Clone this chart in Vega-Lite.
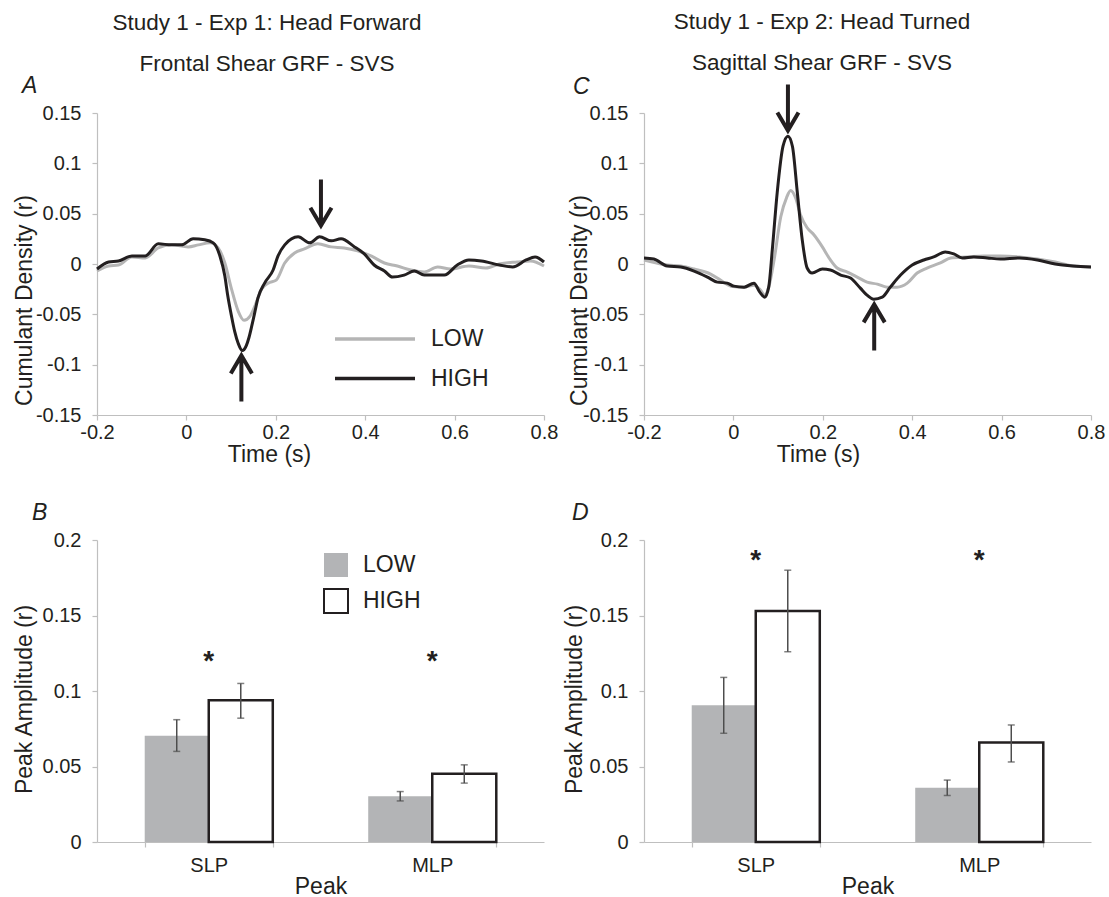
{
  "$schema": "https://vega.github.io/schema/vega-lite/v6.json",
  "padding": {"left": 13, "top": 11, "right": 5, "bottom": 5},
  "background": "white",
  "config": {
    "font": "Liberation Sans",
    "view": {"stroke": null},
    "axis": {"domainColor": "#bfbfbf", "tickColor": "#bfbfbf", "grid": false, "labelFontSize": 20, "labelColor": "#231f20", "titleFontSize": 23, "titleFontWeight": "normal", "titleColor": "#231f20", "tickSize": 5, "domainWidth": 1.2, "tickWidth": 1.2, "labelFont": "Liberation Sans", "titleFont": "Liberation Sans"},
    "title": {"font": "Liberation Sans", "fontSize": 22.5, "fontWeight": "normal", "color": "#231f20", "subtitleFontSize": 22.5, "subtitleColor": "#231f20", "subtitleFont": "Liberation Sans"},
    "legend": {"labelFontSize": 23, "labelColor": "#231f20", "labelFont": "Liberation Sans"}
  },
  "datasets": {
    "lineA": [
      {"s":"LOW","t":-0.2,"v":-0.007},{"s":"LOW","t":-0.174,"v":-0.002},{"s":"LOW","t":-0.152,"v":-0.001},{"s":"LOW","t":-0.122,"v":0.007},{"s":"LOW","t":-0.092,"v":0.006},{"s":"LOW","t":-0.063,"v":0.016},{"s":"LOW","t":-0.033,"v":0.019},{"s":"LOW","t":0.004,"v":0.017},{"s":"LOW","t":0.027,"v":0.019},{"s":"LOW","t":0.053,"v":0.021},{"s":"LOW","t":0.071,"v":0.016},{"s":"LOW","t":0.086,"v":0.001},{"s":"LOW","t":0.101,"v":-0.025},{"s":"LOW","t":0.116,"v":-0.047},{"s":"LOW","t":0.129,"v":-0.056},{"s":"LOW","t":0.142,"v":-0.052},{"s":"LOW","t":0.153,"v":-0.042},{"s":"LOW","t":0.168,"v":-0.025},{"s":"LOW","t":0.183,"v":-0.019},{"s":"LOW","t":0.201,"v":-0.016},{"s":"LOW","t":0.22,"v":0.001},{"s":"LOW","t":0.242,"v":0.011},{"s":"LOW","t":0.264,"v":0.015},{"s":"LOW","t":0.294,"v":0.02},{"s":"LOW","t":0.324,"v":0.017},{"s":"LOW","t":0.353,"v":0.016},{"s":"LOW","t":0.383,"v":0.013},{"s":"LOW","t":0.413,"v":0.008},{"s":"LOW","t":0.443,"v":0.001},{"s":"LOW","t":0.472,"v":-0.002},{"s":"LOW","t":0.502,"v":-0.006},{"s":"LOW","t":0.532,"v":-0.008},{"s":"LOW","t":0.562,"v":-0.003},{"s":"LOW","t":0.591,"v":-0.005},{"s":"LOW","t":0.632,"v":-0.002},{"s":"LOW","t":0.67,"v":-0.004},{"s":"LOW","t":0.7,"v":0.0},{"s":"LOW","t":0.74,"v":0.002},{"s":"LOW","t":0.77,"v":0.003},{"s":"LOW","t":0.8,"v":-0.002},
      {"s":"HIGH","t":-0.2,"v":-0.005},{"s":"HIGH","t":-0.174,"v":0.002},{"s":"HIGH","t":-0.152,"v":0.003},{"s":"HIGH","t":-0.122,"v":0.008},{"s":"HIGH","t":-0.092,"v":0.008},{"s":"HIGH","t":-0.063,"v":0.02},{"s":"HIGH","t":-0.033,"v":0.019},{"s":"HIGH","t":-0.011,"v":0.019},{"s":"HIGH","t":0.015,"v":0.025},{"s":"HIGH","t":0.041,"v":0.024},{"s":"HIGH","t":0.06,"v":0.021},{"s":"HIGH","t":0.075,"v":0.008},{"s":"HIGH","t":0.086,"v":-0.012},{"s":"HIGH","t":0.092,"v":-0.03},{"s":"HIGH","t":0.101,"v":-0.052},{"s":"HIGH","t":0.108,"v":-0.067},{"s":"HIGH","t":0.116,"v":-0.079},{"s":"HIGH","t":0.125,"v":-0.086},{"s":"HIGH","t":0.134,"v":-0.081},{"s":"HIGH","t":0.14,"v":-0.073},{"s":"HIGH","t":0.146,"v":-0.062},{"s":"HIGH","t":0.153,"v":-0.048},{"s":"HIGH","t":0.16,"v":-0.034},{"s":"HIGH","t":0.175,"v":-0.019},{"s":"HIGH","t":0.194,"v":-0.006},{"s":"HIGH","t":0.205,"v":0.008},{"s":"HIGH","t":0.22,"v":0.019},{"s":"HIGH","t":0.25,"v":0.027},{"s":"HIGH","t":0.276,"v":0.021},{"s":"HIGH","t":0.298,"v":0.027},{"s":"HIGH","t":0.324,"v":0.023},{"s":"HIGH","t":0.346,"v":0.025},{"s":"HIGH","t":0.376,"v":0.017},{"s":"HIGH","t":0.398,"v":0.01},{"s":"HIGH","t":0.42,"v":-0.001},{"s":"HIGH","t":0.443,"v":-0.007},{"s":"HIGH","t":0.461,"v":-0.013},{"s":"HIGH","t":0.487,"v":-0.011},{"s":"HIGH","t":0.51,"v":-0.007},{"s":"HIGH","t":0.532,"v":-0.011},{"s":"HIGH","t":0.577,"v":-0.011},{"s":"HIGH","t":0.606,"v":-0.001},{"s":"HIGH","t":0.632,"v":0.004},{"s":"HIGH","t":0.66,"v":0.003},{"s":"HIGH","t":0.7,"v":-0.001},{"s":"HIGH","t":0.73,"v":-0.003},{"s":"HIGH","t":0.76,"v":0.004},{"s":"HIGH","t":0.78,"v":0.007},{"s":"HIGH","t":0.8,"v":0.002}
    ],
    "lineC": [
      {"s":"LOW","t":-0.2,"v":0.004},{"s":"LOW","t":-0.148,"v":-0.001},{"s":"LOW","t":-0.118,"v":-0.002},{"s":"LOW","t":-0.088,"v":-0.005},{"s":"LOW","t":-0.051,"v":-0.01},{"s":"LOW","t":-0.029,"v":-0.016},{"s":"LOW","t":-0.006,"v":-0.022},{"s":"LOW","t":0.024,"v":-0.023},{"s":"LOW","t":0.046,"v":-0.021},{"s":"LOW","t":0.061,"v":-0.026},{"s":"LOW","t":0.07,"v":-0.031},{"s":"LOW","t":0.079,"v":-0.023},{"s":"LOW","t":0.091,"v":0.004},{"s":"LOW","t":0.106,"v":0.047},{"s":"LOW","t":0.119,"v":0.066},{"s":"LOW","t":0.128,"v":0.073},{"s":"LOW","t":0.139,"v":0.066},{"s":"LOW","t":0.15,"v":0.049},{"s":"LOW","t":0.165,"v":0.036},{"s":"LOW","t":0.18,"v":0.029},{"s":"LOW","t":0.199,"v":0.017},{"s":"LOW","t":0.217,"v":0.004},{"s":"LOW","t":0.232,"v":-0.004},{"s":"LOW","t":0.255,"v":-0.008},{"s":"LOW","t":0.277,"v":-0.013},{"s":"LOW","t":0.299,"v":-0.018},{"s":"LOW","t":0.322,"v":-0.02},{"s":"LOW","t":0.344,"v":-0.023},{"s":"LOW","t":0.366,"v":-0.023},{"s":"LOW","t":0.389,"v":-0.019},{"s":"LOW","t":0.411,"v":-0.009},{"s":"LOW","t":0.433,"v":-0.004},{"s":"LOW","t":0.463,"v":0.001},{"s":"LOW","t":0.486,"v":0.006},{"s":"LOW","t":0.523,"v":0.007},{"s":"LOW","t":0.56,"v":0.008},{"s":"LOW","t":0.597,"v":0.008},{"s":"LOW","t":0.64,"v":0.007},{"s":"LOW","t":0.68,"v":0.005},{"s":"LOW","t":0.72,"v":0.002},{"s":"LOW","t":0.76,"v":-0.002},{"s":"LOW","t":0.8,"v":-0.003},
      {"s":"HIGH","t":-0.2,"v":0.006},{"s":"HIGH","t":-0.178,"v":0.005},{"s":"HIGH","t":-0.148,"v":-0.002},{"s":"HIGH","t":-0.118,"v":-0.003},{"s":"HIGH","t":-0.088,"v":-0.007},{"s":"HIGH","t":-0.058,"v":-0.013},{"s":"HIGH","t":-0.036,"v":-0.018},{"s":"HIGH","t":-0.014,"v":-0.019},{"s":"HIGH","t":0.001,"v":-0.022},{"s":"HIGH","t":0.024,"v":-0.023},{"s":"HIGH","t":0.046,"v":-0.019},{"s":"HIGH","t":0.059,"v":-0.028},{"s":"HIGH","t":0.07,"v":-0.033},{"s":"HIGH","t":0.079,"v":-0.023},{"s":"HIGH","t":0.087,"v":0.014},{"s":"HIGH","t":0.098,"v":0.071},{"s":"HIGH","t":0.111,"v":0.117},{"s":"HIGH","t":0.122,"v":0.127},{"s":"HIGH","t":0.132,"v":0.117},{"s":"HIGH","t":0.143,"v":0.071},{"s":"HIGH","t":0.154,"v":0.024},{"s":"HIGH","t":0.165,"v":-0.004},{"s":"HIGH","t":0.176,"v":-0.009},{"s":"HIGH","t":0.199,"v":-0.005},{"s":"HIGH","t":0.217,"v":-0.006},{"s":"HIGH","t":0.24,"v":-0.011},{"s":"HIGH","t":0.262,"v":-0.014},{"s":"HIGH","t":0.284,"v":-0.024},{"s":"HIGH","t":0.299,"v":-0.031},{"s":"HIGH","t":0.314,"v":-0.035},{"s":"HIGH","t":0.333,"v":-0.033},{"s":"HIGH","t":0.351,"v":-0.023},{"s":"HIGH","t":0.374,"v":-0.011},{"s":"HIGH","t":0.4,"v":-0.001},{"s":"HIGH","t":0.426,"v":0.004},{"s":"HIGH","t":0.448,"v":0.007},{"s":"HIGH","t":0.474,"v":0.012},{"s":"HIGH","t":0.493,"v":0.01},{"s":"HIGH","t":0.512,"v":0.006},{"s":"HIGH","t":0.538,"v":0.007},{"s":"HIGH","t":0.568,"v":0.006},{"s":"HIGH","t":0.597,"v":0.005},{"s":"HIGH","t":0.64,"v":0.006},{"s":"HIGH","t":0.68,"v":0.004},{"s":"HIGH","t":0.72,"v":0.0},{"s":"HIGH","t":0.76,"v":-0.002},{"s":"HIGH","t":0.8,"v":-0.003}
    ],
    "arrowsA": [{"t":0.301,"v":0.061,"dir":"down"},{"t":0.123,"v":-0.1137,"dir":"up"}],
    "arrowsC": [{"t":0.122,"v":0.1555,"dir":"down"},{"t":0.315,"v":-0.063,"dir":"up"}],
    "barsB": [
      {"peak":"SLP","g":"LOW","v":0.0704,"lo":0.06,"hi":0.081},
      {"peak":"SLP","g":"HIGH","v":0.0938,"lo":0.082,"hi":0.105},
      {"peak":"MLP","g":"LOW","v":0.0303,"lo":0.0272,"hi":0.0334},
      {"peak":"MLP","g":"HIGH","v":0.0452,"lo":0.039,"hi":0.0511}
    ],
    "barsD": [
      {"peak":"SLP","g":"LOW","v":0.0905,"lo":0.072,"hi":0.109},
      {"peak":"SLP","g":"HIGH","v":0.153,"lo":0.126,"hi":0.18},
      {"peak":"MLP","g":"LOW","v":0.0359,"lo":0.0308,"hi":0.041},
      {"peak":"MLP","g":"HIGH","v":0.0659,"lo":0.053,"hi":0.0775}
    ],
    "starsB": [{"peak":"SLP","v":0.114},{"peak":"MLP","v":0.114}],
    "starsD": [{"peak":"SLP","v":0.181},{"peak":"MLP","v":0.181}]
  },
  "spacing": 36,
  "resolve": {"scale": {"color":"independent","fill":"independent","stroke":"independent","shape":"independent"}, "legend": {"color":"independent","fill":"independent","stroke":"independent","shape":"independent"}},
  "vconcat": [
    {
      "hconcat": [
        {
          "title": {"text": "Study 1 - Exp 1: Head Forward", "subtitle": "Frontal Shear GRF - SVS", "anchor": "middle", "frame": "group", "dx": 170, "offset": 0, "subtitlePadding": 18},
          "resolve": {"scale": {"color":"independent","shape":"independent"}, "legend": {"color":"independent","shape":"independent"}},
          "vconcat": [
            {
              "width": 447, "height": 302,
              "title": {"text": "A", "anchor": "start", "frame": "group", "dx": -75, "fontStyle": "italic", "fontSize": 23, "baseline": "alphabetic", "offset": -13},
              "layer": [
                {
                  "data": {"name": "lineA"},
                  "mark": {"type": "line", "strokeWidth": 3, "interpolate": "monotone"},
                  "encoding": {
                    "x": {"field": "t", "type": "quantitative", "scale": {"domain": [-0.2, 0.8], "nice": false, "zero": false},
                      "axis": {"values": [-0.2,0,0.2,0.4,0.6,0.8], "labelExpr": "replace(format(datum.value, '.1~f'), '\u2212', '-')", "title": "Time (s)", "titleX": 172, "titleY": 39, "titleBaseline": "middle", "labelBaseline": "middle", "labelPadding": 12, "labelFlush": false, "labelOverlap": false}},
                    "y": {"field": "v", "type": "quantitative", "scale": {"domain": [-0.15, 0.15], "nice": false, "zero": false},
                      "axis": {"values": [-0.15,-0.1,-0.05,0,0.05,0.1,0.15], "labelExpr": "replace(format(datum.value, '.2~f'), '\u2212', '-')", "title": "Cumulant Density (r)", "titleX": -73, "titleY": 187, "titleBaseline": "middle", "labelPadding": 11, "labelOverlap": false}},
                    "color": {"field": "s", "type": "nominal", "scale": {"domain": ["LOW","HIGH"], "range": ["#b5b5b5","#231f20"]},
                      "legend": {"orient": "none", "legendX": 260, "legendY": 208, "title": null, "symbolType": "M-2.5,0L2.5,0", "symbolSize": 1024, "symbolStrokeWidth": 3.5, "labelOffset": 38, "rowPadding": 9.5, "padding": 0, "labelFontSize": 23}}
                  }
                },
                {
                  "data": {"name": "arrowsA"},
                  "mark": {"type": "point", "filled": false, "strokeWidth": 4, "color": "#231f20", "size": 2116, "opacity": 1, "strokeJoin": "miter"},
                  "encoding": {
                    "x": {"field": "t", "type": "quantitative"},
                    "y": {"field": "v", "type": "quantitative"},
                    "shape": {"field": "dir", "type": "nominal", "scale": {"domain": ["down","up"], "range": ["M0,-1L0,0.9M-0.46,0.22L0,1L0.46,0.22", "M0,1L0,-0.9M-0.46,-0.22L0,-1L0.46,-0.22"]}, "legend": null}
                  }
                }
              ]
            }
          ]
        },
        {
          "title": {"text": "Study 1 - Exp 2: Head Turned", "subtitle": "Sagittal Shear GRF - SVS", "anchor": "middle", "frame": "group", "dx": 178, "offset": 2, "subtitlePadding": 18},
          "resolve": {"scale": {"color":"independent","shape":"independent"}, "legend": {"color":"independent","shape":"independent"}},
          "vconcat": [
            {
              "width": 447, "height": 302,
              "title": {"text": "C", "anchor": "start", "frame": "group", "dx": -71, "fontStyle": "italic", "fontSize": 23, "baseline": "alphabetic", "offset": -41},
              "layer": [
                {
                  "data": {"name": "lineC"},
                  "mark": {"type": "line", "strokeWidth": 3, "interpolate": "monotone"},
                  "encoding": {
                    "x": {"field": "t", "type": "quantitative", "scale": {"domain": [-0.2, 0.8], "nice": false, "zero": false},
                      "axis": {"values": [-0.2,0,0.2,0.4,0.6,0.8], "labelExpr": "replace(format(datum.value, '.1~f'), '\u2212', '-')", "title": "Time (s)", "titleX": 174, "titleY": 39, "titleBaseline": "middle", "labelBaseline": "middle", "labelPadding": 12, "labelFlush": false, "labelOverlap": false}},
                    "y": {"field": "v", "type": "quantitative", "scale": {"domain": [-0.15, 0.15], "nice": false, "zero": false},
                      "axis": {"values": [-0.15,-0.1,-0.05,0,0.05,0.1,0.15], "labelExpr": "replace(format(datum.value, '.2~f'), '\u2212', '-')", "title": "Cumulant Density (r)", "titleX": -65, "titleY": 187, "titleBaseline": "middle", "labelPadding": 11, "labelOverlap": false}},
                    "color": {"field": "s", "type": "nominal", "scale": {"domain": ["LOW","HIGH"], "range": ["#b5b5b5","#231f20"]}, "legend": null}
                  }
                },
                {
                  "data": {"name": "arrowsC"},
                  "mark": {"type": "point", "filled": false, "strokeWidth": 4, "color": "#231f20", "size": 2116, "opacity": 1, "strokeJoin": "miter"},
                  "encoding": {
                    "x": {"field": "t", "type": "quantitative"},
                    "y": {"field": "v", "type": "quantitative"},
                    "shape": {"field": "dir", "type": "nominal", "scale": {"domain": ["down","up"], "range": ["M0,-1L0,0.9M-0.46,0.22L0,1L0.46,0.22", "M0,1L0,-0.9M-0.46,-0.22L0,-1L0.46,-0.22"]}, "legend": null}
                  }
                }
              ]
            }
          ]
        }
      ],
      "spacing": 10,
      "resolve": {"scale": {"color":"independent","shape":"independent"}, "legend": {"color":"independent","shape":"independent"}}
    },
    {
      "hconcat": [
        {
          "width": 447, "height": 302,
          "title": {"text": "B", "anchor": "start", "frame": "group", "dx": -65, "fontStyle": "italic", "fontSize": 23, "baseline": "alphabetic", "offset": -13},
          "layer": [
            {
              "data": {"name": "barsB"},
              "mark": {"type": "bar", "strokeWidth": 2.5},
              "encoding": {
                "x": {"field": "peak", "type": "nominal", "sort": ["SLP","MLP"], "scale": {"paddingInner": 0.427, "paddingOuter": 0.2135},
                  "axis": {"title": "Peak", "labelAngle": 0, "tickBand": "extent", "labelBaseline": "middle", "labelPadding": 18, "titleBaseline": "middle", "titleY": 44}},
                "xOffset": {"field": "g", "type": "nominal", "sort": ["LOW","HIGH"], "scale": {"paddingInner": 0, "paddingOuter": 0}},
                "y": {"field": "v", "type": "quantitative", "scale": {"domain": [0, 0.2], "nice": false},
                  "axis": {"values": [0,0.05,0.1,0.15,0.2], "labelExpr": "format(datum.value, '.2~f')", "title": "Peak Amplitude (r)", "titleX": -73, "titleY": 159, "titleBaseline": "middle", "labelPadding": 11}},
                "fill": {"field": "g", "type": "nominal", "scale": {"domain": ["LOW","HIGH"], "range": ["#b3b4b6","#ffffff"]},
                  "legend": {"orient": "none", "legendX": 226, "legendY": 12, "title": null, "symbolType": "square", "symbolSize": 576, "symbolStrokeWidth": 2, "labelOffset": 14, "rowPadding": 4, "padding": 0, "labelFontSize": 23}},
                "stroke": {"field": "g", "type": "nominal", "scale": {"domain": ["LOW","HIGH"], "range": ["transparent","#231f20"]},
                  "legend": {"orient": "none", "legendX": 226, "legendY": 12, "title": null, "symbolType": "square", "symbolSize": 576, "symbolStrokeWidth": 2, "labelOffset": 14, "rowPadding": 4, "padding": 0, "labelFontSize": 23}}
              }
            },
            {
              "data": {"name": "barsB"},
              "mark": {"type": "rule", "color": "#4d4d4d", "strokeWidth": 1.5},
              "encoding": {
                "x": {"field": "peak", "type": "nominal", "sort": ["SLP","MLP"]},
                "xOffset": {"field": "g", "type": "nominal", "sort": ["LOW","HIGH"]},
                "y": {"field": "lo", "type": "quantitative"},
                "y2": {"field": "hi"}
              }
            },
            {
              "data": {"name": "barsB"},
              "mark": {"type": "tick", "color": "#4d4d4d", "thickness": 1.5, "size": 7},
              "encoding": {
                "x": {"field": "peak", "type": "nominal", "sort": ["SLP","MLP"]},
                "xOffset": {"field": "g", "type": "nominal", "sort": ["LOW","HIGH"]},
                "y": {"field": "lo", "type": "quantitative"}
              }
            },
            {
              "data": {"name": "barsB"},
              "mark": {"type": "tick", "color": "#4d4d4d", "thickness": 1.5, "size": 7},
              "encoding": {
                "x": {"field": "peak", "type": "nominal", "sort": ["SLP","MLP"]},
                "xOffset": {"field": "g", "type": "nominal", "sort": ["LOW","HIGH"]},
                "y": {"field": "hi", "type": "quantitative"}
              }
            },
            {
              "data": {"name": "starsB"},
              "mark": {"type": "text", "text": "*", "fontSize": 28, "fontWeight": "bold", "baseline": "alphabetic", "color": "#231f20"},
              "encoding": {
                "x": {"field": "peak", "type": "nominal", "sort": ["SLP","MLP"]},
                "y": {"field": "v", "type": "quantitative"}
              }
            }
          ]
        },
        {
          "width": 447, "height": 302,
          "title": {"text": "D", "anchor": "start", "frame": "group", "dx": -72, "fontStyle": "italic", "fontSize": 23, "baseline": "alphabetic", "offset": -13},
          "layer": [
            {
              "data": {"name": "barsD"},
              "mark": {"type": "bar", "strokeWidth": 2.5},
              "encoding": {
                "x": {"field": "peak", "type": "nominal", "sort": ["SLP","MLP"], "scale": {"paddingInner": 0.427, "paddingOuter": 0.2135},
                  "axis": {"title": "Peak", "labelAngle": 0, "tickBand": "extent", "labelBaseline": "middle", "labelPadding": 18, "titleBaseline": "middle", "titleY": 44}},
                "xOffset": {"field": "g", "type": "nominal", "sort": ["LOW","HIGH"], "scale": {"paddingInner": 0, "paddingOuter": 0}},
                "y": {"field": "v", "type": "quantitative", "scale": {"domain": [0, 0.2], "nice": false},
                  "axis": {"values": [0,0.05,0.1,0.15,0.2], "labelExpr": "format(datum.value, '.2~f')", "title": "Peak Amplitude (r)", "titleX": -70, "titleY": 159, "titleBaseline": "middle", "labelPadding": 11}},
                "fill": {"field": "g", "type": "nominal", "scale": {"domain": ["LOW","HIGH"], "range": ["#b3b4b6","#ffffff"]}, "legend": null},
                "stroke": {"field": "g", "type": "nominal", "scale": {"domain": ["LOW","HIGH"], "range": ["transparent","#231f20"]}, "legend": null}
              }
            },
            {
              "data": {"name": "barsD"},
              "mark": {"type": "rule", "color": "#4d4d4d", "strokeWidth": 1.5},
              "encoding": {
                "x": {"field": "peak", "type": "nominal", "sort": ["SLP","MLP"]},
                "xOffset": {"field": "g", "type": "nominal", "sort": ["LOW","HIGH"]},
                "y": {"field": "lo", "type": "quantitative"},
                "y2": {"field": "hi"}
              }
            },
            {
              "data": {"name": "barsD"},
              "mark": {"type": "tick", "color": "#4d4d4d", "thickness": 1.5, "size": 7},
              "encoding": {
                "x": {"field": "peak", "type": "nominal", "sort": ["SLP","MLP"]},
                "xOffset": {"field": "g", "type": "nominal", "sort": ["LOW","HIGH"]},
                "y": {"field": "lo", "type": "quantitative"}
              }
            },
            {
              "data": {"name": "barsD"},
              "mark": {"type": "tick", "color": "#4d4d4d", "thickness": 1.5, "size": 7},
              "encoding": {
                "x": {"field": "peak", "type": "nominal", "sort": ["SLP","MLP"]},
                "xOffset": {"field": "g", "type": "nominal", "sort": ["LOW","HIGH"]},
                "y": {"field": "hi", "type": "quantitative"}
              }
            },
            {
              "data": {"name": "starsD"},
              "mark": {"type": "text", "text": "*", "fontSize": 28, "fontWeight": "bold", "baseline": "alphabetic", "color": "#231f20"},
              "encoding": {
                "x": {"field": "peak", "type": "nominal", "sort": ["SLP","MLP"]},
                "y": {"field": "v", "type": "quantitative"}
              }
            }
          ]
        }
      ],
      "spacing": 19,
      "resolve": {"scale": {"fill":"independent","stroke":"independent"}, "legend": {"fill":"independent","stroke":"independent"}}
    }
  ]
}
